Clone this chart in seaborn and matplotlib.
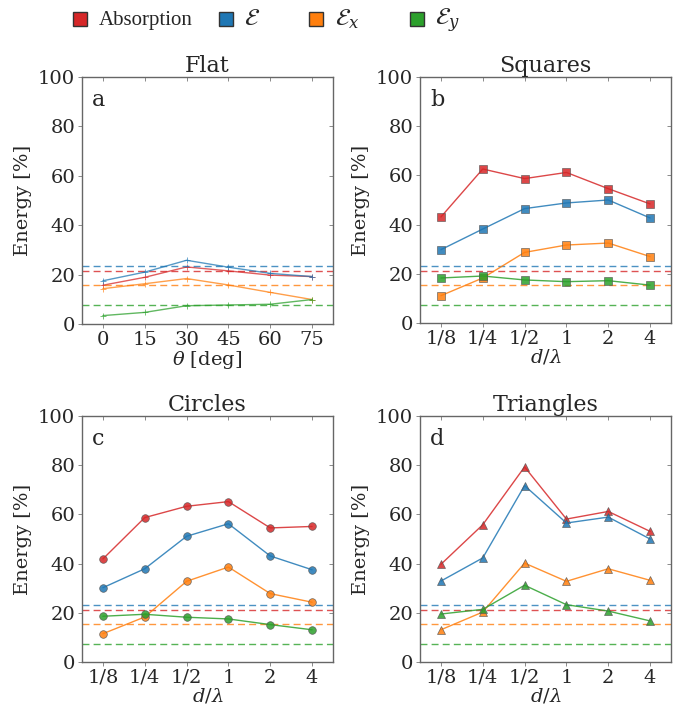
import numpy as np
import pandas as pd
import matplotlib
matplotlib.use("Agg")
import matplotlib.pyplot as plt
import seaborn as sns
from matplotlib.lines import Line2D

sns.set_theme(style="white")
plt.rcParams['font.family'] = ['DejaVu Serif']
plt.rcParams['mathtext.fontset'] = 'dejavuserif'

# ---- data ----
theta = [0, 15, 30, 45, 60, 75]
d_labels = ["1/8", "1/4", "1/2", "1", "2", "4"]
series_names = ["Absorption", "E", "Ex", "Ey"]
legend_labels = ["Absorption", r"$\mathcal{E}$" + "\u2003\u2009",
                 r"$\mathcal{E}_x$" + "\u2003\u2002", r"$\mathcal{E}_y$"]
colors = {"Absorption": "#d62728", "E": "#1f77b4", "Ex": "#ff7f0e", "Ey": "#2ca02c"}
reference = {"Absorption": 21.3, "E": 23.3, "Ex": 15.6, "Ey": 7.5}

flat_abs = [15.7, 18.9, 23.1, 21.5, 19.8, 19.2]
flat_E = [17.5, 21.0, 25.8, 23.0, 20.5, 19.2]
flat_Ex = [14.3, 16.3, 18.4, 15.8, 12.8, 9.9]
flat_Ey = [3.4, 4.7, 7.4, 7.7, 8.0, 9.9]

sq_abs = [43.1, 62.6, 58.7, 61.2, 54.6, 48.4]
sq_E = [29.8, 38.2, 46.5, 48.8, 50.0, 42.7]
sq_Ex = [11.1, 18.3, 28.7, 31.7, 32.5, 27.0]
sq_Ey = [18.3, 19.1, 17.5, 16.8, 17.2, 15.4]

ci_abs = [41.9, 58.7, 63.3, 65.2, 54.5, 55.1]
ci_E = [30.2, 37.9, 51.1, 56.2, 43.1, 37.5]
ci_Ex = [11.5, 18.3, 32.8, 38.6, 27.8, 24.3]
ci_Ey = [18.6, 19.4, 18.2, 17.5, 15.2, 13.1]

tr_abs = [39.7, 55.8, 79.3, 58.1, 61.2, 53.1]
tr_E = [32.9, 42.3, 71.7, 56.5, 58.9, 50.0]
tr_Ex = [13.1, 20.3, 40.2, 32.8, 37.9, 33.2]
tr_Ey = [19.5, 21.4, 31.2, 23.3, 20.7, 16.7]

panels = [
    ("Flat", "a", [flat_abs, flat_E, flat_Ex, flat_Ey], "+"),
    ("Squares", "b", [sq_abs, sq_E, sq_Ex, sq_Ey], "s"),
    ("Circles", "c", [ci_abs, ci_E, ci_Ex, ci_Ey], "o"),
    ("Triangles", "d", [tr_abs, tr_E, tr_Ex, tr_Ey], "^"),
]

fig = plt.figure(figsize=(6.81, 7.08), dpi=100)
W, H = 681, 708
boxes = [(82, 77, 333, 324), (420, 77, 671, 323), (82, 416, 333, 662), (420, 416, 671, 662)]

for (title, letter, vals, mk), (x0, y0, x1, y1) in zip(panels, boxes):
    ax = fig.add_axes([x0 / W, 1 - y1 / H, (x1 - x0) / W, (y1 - y0) / H])
    if title == "Flat":
        xs = theta
    else:
        xs = list(range(len(d_labels)))
    for name, v in zip(series_names, vals):
        df = pd.DataFrame({"x": xs, "y": v})
        c = colors[name]
        ax.axhline(reference[name], color=c, ls="--", lw=1.0, alpha=0.8, dashes=(5, 3))
        if mk == "+":
            sns.lineplot(data=df, x="x", y="y", ax=ax, color=c, lw=1.0, alpha=0.75,
                         marker="+", markersize=4, markeredgewidth=0.6, markeredgecolor=c)
        else:
            sns.lineplot(data=df, x="x", y="y", ax=ax, color=c, lw=1.0, alpha=0.85,
                         marker=mk, markersize=5.5,
                         markeredgecolor="#555555", markeredgewidth=0.5)
    if title == "Flat":
        ax.set_xlim(-7.5, 82.5)
        ax.set_xticks(theta)
        ax.set_xticklabels([str(t) for t in theta])
        ax.set_xlabel(r"$\theta$ [deg]", fontsize=14, labelpad=0)
    else:
        ax.set_xlim(-0.5, 5.5)
        ax.set_xticks(xs)
        ax.set_xticklabels(d_labels)
        ax.set_xlabel(r"$d/\lambda$", fontsize=14, labelpad=0)
    ax.set_ylim(0, 100)
    ax.set_yticks([0, 20, 40, 60, 80, 100])
    ax.set_ylabel("Energy [%]", fontsize=14, labelpad=4)
    ax.set_title(title, fontsize=16, pad=1)
    ax.text(0.04, 0.95, letter, transform=ax.transAxes, fontsize=16, va="top", ha="left")
    ax.tick_params(axis="both", labelsize=14, direction="out", length=3, width=0.6,
                   color="#777777", bottom=True, left=True, top=False, right=False, pad=2)
    # small inward ticks on the top and right spines
    sx = ax.secondary_xaxis("top")
    sx.set_xticks(ax.get_xticks())
    sx.tick_params(direction="in", length=3, width=0.6, color="#777777", labeltop=False)
    sx.spines["top"].set_visible(False)
    sy = ax.secondary_yaxis("right")
    sy.set_yticks(ax.get_yticks())
    sy.tick_params(direction="in", length=3, width=0.6, color="#777777", labelright=False)
    sy.spines["right"].set_visible(False)
    for s in ax.spines.values():
        s.set_color("#666666")
        s.set_linewidth(1.0)
    ax.grid(False)

handles = []
for name in series_names:
    handles.append(Line2D([], [], ls="none", marker="s", markersize=10,
                          markerfacecolor=colors[name], markeredgecolor="#333333",
                          markeredgewidth=1.0))
leg = fig.legend(handles, legend_labels, loc="center left", bbox_to_anchor=(72 / W, 1 - 21 / H),
                 ncol=4, frameon=False, fontsize=12, columnspacing=1.5, handletextpad=0.6,
                 handlelength=1.0, borderpad=0, borderaxespad=0)
texts = leg.get_texts()
texts[0].set_fontfamily(["Liberation Serif", "DejaVu Serif"])
texts[0].set_fontsize(15)
for t in texts[1:]:
    t.set_fontsize(17)

fig.savefig("out.png", dpi=100, facecolor="white")
